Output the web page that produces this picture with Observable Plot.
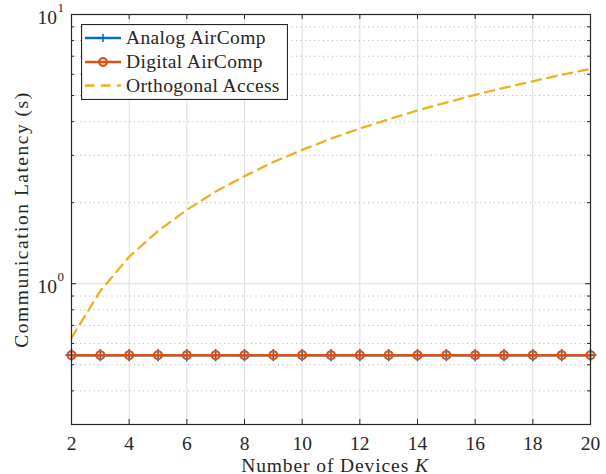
<!DOCTYPE html>
<html>
<head>
<meta charset="utf-8">
<script src="https://cdn.jsdelivr.net/npm/d3@7"></script>
<script src="https://cdn.jsdelivr.net/npm/@observablehq/plot@0.6"></script>
<style>
  html, body { margin: 0; padding: 0; background: #fff; }
  #wrap { position: relative; width: 606px; height: 474px; }
  #legend { position: absolute; left: 81px; top: 24px; }
</style>
</head>
<body>
<div id="wrap"></div>
<script>
// ---- data ----
const K = [2, 3, 4, 5, 6, 7, 8, 9, 10, 11, 12, 13, 14, 15, 16, 17, 18, 19, 20];
const analogLatency  = [0.543, 0.543, 0.543, 0.543, 0.543, 0.543, 0.543, 0.543, 0.543, 0.543, 0.543, 0.543, 0.543, 0.543, 0.543, 0.543, 0.543, 0.543, 0.543];
const digitalLatency = [0.543, 0.543, 0.543, 0.543, 0.543, 0.543, 0.543, 0.543, 0.543, 0.543, 0.543, 0.543, 0.543, 0.543, 0.543, 0.543, 0.543, 0.543, 0.543];
const orthLatency    = [0.63, 0.94, 1.26, 1.57, 1.88, 2.2, 2.51, 2.83, 3.14, 3.46, 3.77, 4.08, 4.4, 4.71, 5.03, 5.34, 5.65, 5.97, 6.28];
const xTicks = [2, 4, 6, 8, 10, 12, 14, 16, 18, 20];
const yMajor = [1, 10];
const yMajorExp = ["0", "1"];
const yMinor = [0.4, 0.5, 0.6, 0.7, 0.8, 0.9, 2, 3, 4, 5, 6, 7, 8, 9];
const seriesNames = ["Analog AirComp", "Digital AirComp", "Orthogonal Access"];
const xLabel = "Number of Devices ";
const xLabelItalic = "K";
const yLabel = "Communication Latency (s)";

const colors = ["#0072BD", "#D95319", "#EDB120"];

const analog = K.map((k, i) => ({k, v: analogLatency[i]}));
const digital = K.map((k, i) => ({k, v: digitalLatency[i]}));
const orth = K.map((k, i) => ({k, v: orthLatency[i]}));
const majors = yMajor.map((v, i) => ({v, e: yMajorExp[i]}));

const W = 606, H = 474, mL = 71, mR = 16, mT = 14, mB = 50;
const pw = W - mL - mR, ph = H - mT - mB;
const axisColor = "#262626";
const fontFamily = "'Liberation Serif', 'Times New Roman', serif";
const fs = 19.5;

const chart = Plot.plot({
  width: W, height: H,
  marginLeft: mL, marginRight: mR, marginTop: mT, marginBottom: mB,
  style: {fontFamily, fontSize: fs + "px", color: axisColor, background: "#fff"},
  x: {domain: [2, 20]},
  y: {type: "log", domain: [0.3, 10]},
  marks: [
    Plot.gridX(xTicks, {stroke: "#dedede", strokeOpacity: 1, strokeWidth: 1}),
    Plot.gridY(yMajor, {stroke: "#dedede", strokeOpacity: 1, strokeWidth: 1}),
    Plot.gridY(yMinor, {stroke: "#b0b0b0", strokeOpacity: 1, strokeWidth: 1, strokeDasharray: "1,3.5"}),
    Plot.line(orth, {x: "k", y: "v", stroke: colors[2], strokeWidth: 2.3, strokeDasharray: "9.5,6.5"}),
    Plot.line(analog, {x: "k", y: "v", stroke: colors[0], strokeWidth: 2.5}),
    Plot.dot(analog, {x: "k", y: "v", symbol: "plus", r: 4, stroke: colors[0], strokeWidth: 1.6}),
    Plot.line(digital, {x: "k", y: "v", stroke: colors[1], strokeWidth: 2.5}),
    Plot.dot(digital, {x: "k", y: "v", symbol: "circle", r: 3.9, stroke: colors[1], strokeWidth: 2.2, fill: "none"}),
    // inward tick marks
    Plot.tickX(xTicks, {x: d => d, insetTop: ph - 5, stroke: axisColor}),
    Plot.tickX(xTicks, {x: d => d, insetBottom: ph - 5, stroke: axisColor}),
    Plot.tickY(yMajor, {y: d => d, insetRight: pw - 5, stroke: axisColor}),
    Plot.tickY(yMajor, {y: d => d, insetLeft: pw - 5, stroke: axisColor}),
    Plot.tickY(yMinor, {y: d => d, insetRight: pw - 3, stroke: axisColor}),
    Plot.tickY(yMinor, {y: d => d, insetLeft: pw - 3, stroke: axisColor}),
    Plot.frame({stroke: axisColor, strokeWidth: 1.2}),
    // axis labels
    Plot.axisX(xTicks, {tickSize: 0, tickPadding: 12, label: null, fill: axisColor, fontSize: fs}),
    Plot.axisY(yMajor, {tickSize: 0, tickPadding: 14.5, tickFormat: () => "10", label: null, dy: 3, fill: axisColor, fontSize: fs}),
    Plot.text(majors, {y: "v", text: "e", frameAnchor: "left", textAnchor: "start", dx: -14, dy: -6.5, fontSize: 13, fill: axisColor}),
    Plot.text([xLabel], {frameAnchor: "bottom", textAnchor: "middle", lineAnchor: "bottom", dy: 47, text: d => d, fill: axisColor, fontSize: fs}),
    Plot.text([yLabel], {frameAnchor: "left", textAnchor: "middle", lineAnchor: "bottom", rotate: -90, dx: -44, text: d => d, fill: axisColor, fontSize: fs})
  ]
});

const svg = d3.select(chart);
svg.selectAll("text").filter(function() { return this.textContent === xLabel; })
  .style("letter-spacing", "0.9px").attr("dx", 4)
  .append("tspan").attr("font-style", "italic").text(xLabelItalic);
svg.selectAll("text").filter(function() { return this.textContent === yLabel; })
  .style("letter-spacing", "1.5px");

const wrap = document.getElementById("wrap");
wrap.appendChild(chart);

// legend (inside the axes, upper-left)
const lg = d3.select(wrap).append("svg").attr("id", "legend")
  .attr("width", 207).attr("height", 76)
  .style("font-family", fontFamily).style("font-size", fs + "px");
lg.append("rect").attr("x", 0.5).attr("y", 0.5).attr("width", 206).attr("height", 75)
  .attr("fill", "#fff").attr("stroke", axisColor).attr("stroke-width", 1.2);
const rowY = [14, 38, 61.5];
seriesNames.forEach((name, i) => {
  const y = rowY[i];
  lg.append("line").attr("x1", 4).attr("x2", 40).attr("y1", y).attr("y2", y)
    .attr("stroke", colors[i]).attr("stroke-width", i === 2 ? 2.3 : 2.5)
    .attr("stroke-dasharray", i === 2 ? "9.5,6.5" : null);
  if (i === 0) {
    lg.append("path").attr("d", `M18,${y}h8M22,${y-4}v8`).attr("stroke", colors[0]).attr("stroke-width", 1.6);
  }
  if (i === 1) {
    lg.append("circle").attr("cx", 22).attr("cy", y).attr("r", 3.9).attr("fill", "none")
      .attr("stroke", colors[1]).attr("stroke-width", 2.2);
  }
  lg.append("text").attr("x", 45).attr("y", y).attr("dy", "0.33em")
    .attr("fill", axisColor).style("letter-spacing", "0.35px").text(name);
});
</script>
</body>
</html>
